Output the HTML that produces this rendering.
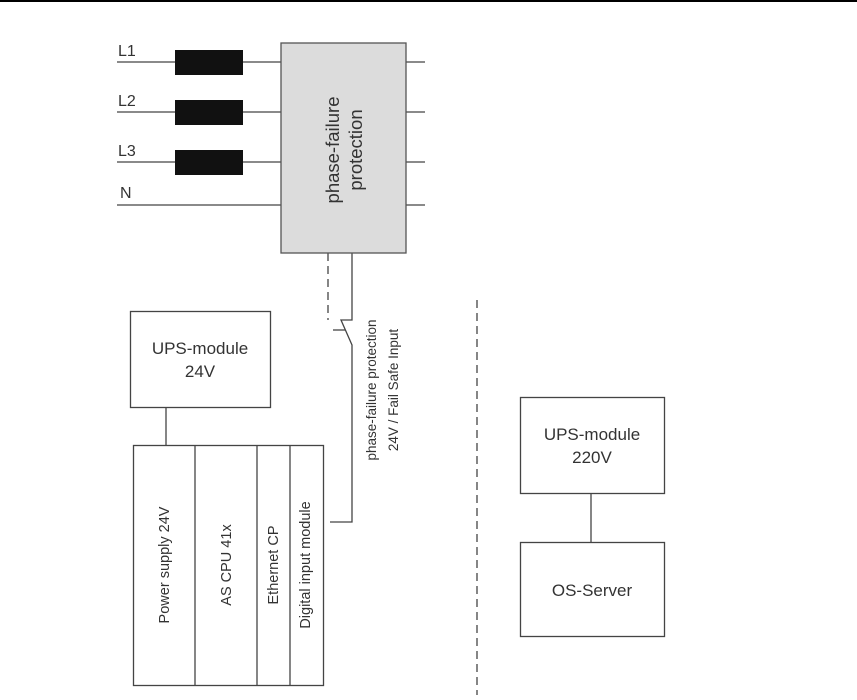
<!DOCTYPE html>
<html><head><meta charset="utf-8"><style>body{margin:0;background:#fff}svg{display:block}</style></head>
<body>
<svg width="857" height="700" viewBox="0 0 857 700" xmlns="http://www.w3.org/2000/svg" font-family="Liberation Sans, sans-serif" fill="#333">
<rect x="0" y="0" width="857" height="2" fill="#000"/>
<g stroke="#444" stroke-width="1.3" fill="none">
<line x1="117" y1="62" x2="281" y2="62"/>
<line x1="117" y1="112" x2="281" y2="112"/>
<line x1="117" y1="162" x2="281" y2="162"/>
<line x1="117" y1="205" x2="281" y2="205"/>
<line x1="406" y1="62" x2="425" y2="62"/>
<line x1="406" y1="112" x2="425" y2="112"/>
<line x1="406" y1="162" x2="425" y2="162"/>
<line x1="406" y1="205" x2="425" y2="205"/>
<polyline points="352,253 352,320 341,320 352,345 352,522 330,522"/>
<line x1="333" y1="330" x2="345" y2="330"/>
<line x1="328" y1="253" x2="328" y2="320" stroke-dasharray="8,5"/>
<line x1="477" y1="300" x2="477" y2="695" stroke-dasharray="8,5"/>
<rect x="130.5" y="311.5" width="140" height="96"/>
<line x1="166" y1="407" x2="166" y2="445"/>
<rect x="133.5" y="445.5" width="190" height="240"/>
<line x1="195" y1="445" x2="195" y2="685"/>
<line x1="257" y1="445" x2="257" y2="685"/>
<line x1="290" y1="445" x2="290" y2="685"/>
<rect x="520.5" y="397.5" width="144" height="96"/>
<line x1="591" y1="493" x2="591" y2="542"/>
<rect x="520.5" y="542.5" width="144" height="94"/>
</g>
<rect x="281" y="43" width="125" height="210" fill="#dcdcdc" stroke="#555" stroke-width="1.3"/>
<g fill="#111">
<rect x="175" y="50" width="68" height="25"/>
<rect x="175" y="100" width="68" height="25"/>
<rect x="175" y="150" width="68" height="25"/>
</g>
<g font-size="16" fill="#333">
<text x="118" y="56">L1</text>
<text x="118" y="106">L2</text>
<text x="118" y="156">L3</text>
<text x="120" y="198">N</text>
</g>
<g font-size="18.5" text-anchor="middle">
<text transform="translate(339,150) rotate(-90)">phase-failure</text>
<text transform="translate(362,150) rotate(-90)">protection</text>
</g>
<g font-size="13.5" text-anchor="middle">
<text transform="translate(376,390) rotate(-90)">phase-failure protection</text>
<text transform="translate(398,390) rotate(-90)">24V / Fail Safe Input</text>
</g>
<g font-size="14.5" text-anchor="middle">
<text transform="translate(169,565) rotate(-90)">Power supply 24V</text>
<text transform="translate(231,565) rotate(-90)">AS CPU 41x</text>
<text transform="translate(278,565) rotate(-90)">Ethernet CP</text>
<text transform="translate(310,565) rotate(-90)">Digital input module</text>
</g>
<g font-size="17" text-anchor="middle">
<text x="200" y="354">UPS-module</text>
<text x="200" y="377">24V</text>
<text x="592" y="440">UPS-module</text>
<text x="592" y="463">220V</text>
<text x="592" y="596">OS-Server</text>
</g>
</svg>
</body></html>
